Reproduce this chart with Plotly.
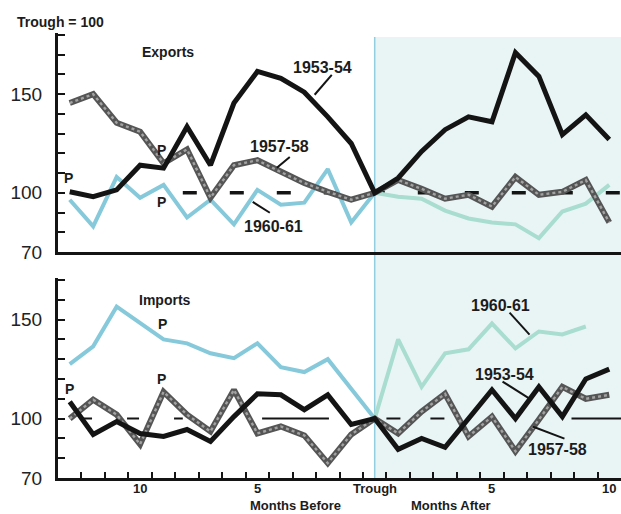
import plotly.graph_objects as go

# Months relative to the business-cycle trough (negative = before)
months = list(range(-13, 11))

# Exports, index with trough month = 100
exp_1953_54 = [100.5, 98, 101.5, 114, 112.5, 133.5, 114, 145.5, 161.5, 158, 151, 138.5, 125,
               100, 107.5, 121, 132, 138.5, 136, 171, 159, 129.5, 139.5, 127]
exp_1957_58 = [145.5, 150, 135.5, 131, 115, 122, 97.5, 114, 116.5, 110.5, 105, 100.5, 96.5,
               100, 106.5, 102, 97, 99, 93, 108, 99, 100.5, 106.5, 85]
exp_1960_61 = [96.5, 83, 108, 97.5, 104, 87.5, 96.5, 84, 101.5, 94, 95, 112, 85,
               100, 98, 97, 91, 87, 85, 84, 77, 90.5, 94.5, 104]

# Imports, index with trough month = 100
imp_1953_54 = [108.5, 92, 98.5, 92.5, 91, 94.5, 88.5, 101, 112.5, 112, 104.5, 112, 97,
               100, 84.5, 90, 85.5, 100, 114.5, 100, 116, 101, 120, 125]
imp_1957_58 = [100, 109.5, 102, 87, 113.5, 102, 93.5, 114.5, 92.5, 96, 91.5, 77.5, 92,
               100, 92.5, 103.5, 112.5, 91, 101, 83.5, 99.5, 116, 110, 112]
imp_1960_61 = [127.5, 136.5, 156.5, 148, 140, 138, 133, 130.5, 138, 126, 123.5, 130, 115,
               100, 140, 116, 133, 135, 148, 135.5, 144, 142.5, 146.5, None]

x_ticks = [-10, -5, 0, 5, 10]
x_tick_text = ["10", "5", "Trough", "5", "10"]
y_show = {70: "70", 100: "100", 150: "150"}

BLACK = "#141414"
BLUE = "#86c9da"
MINT = "#a8ddcf"
GREY_EDGE = "#555555"
GREY_FILL = "#a2a2a2"
FONT = "Liberation Sans"

fig = go.Figure()


def add_panel(xa, ya, s5354, s5758, s6061):
    before = [m for m in months if m <= 0]
    after = [m for m in months if m >= 0]
    v_before = [v for m, v in zip(months, s6061) if m <= 0]
    v_after = [v for m, v in zip(months, s6061) if m >= 0]
    # 1960-61: lighter tone once inside the recovery shading
    fig.add_trace(go.Scatter(x=before, y=v_before, mode="lines", xaxis=xa, yaxis=ya,
                             line=dict(color=BLUE, width=4), hoverinfo="skip"))
    fig.add_trace(go.Scatter(x=after, y=v_after, mode="lines", xaxis=xa, yaxis=ya,
                             line=dict(color=MINT, width=4), hoverinfo="skip"))
    # 1957-58: hatched grey band (dark edge with a speckled core)
    fig.add_trace(go.Scatter(x=months, y=s5758, mode="lines", xaxis=xa, yaxis=ya,
                             line=dict(color=GREY_EDGE, width=6), hoverinfo="skip"))
    fig.add_trace(go.Scatter(x=months, y=s5758, mode="lines", xaxis=xa, yaxis=ya,
                             line=dict(color=GREY_FILL, width=2.4, dash="dot"), hoverinfo="skip"))
    # 1953-54: heavy black
    fig.add_trace(go.Scatter(x=months, y=s5354, mode="lines", xaxis=xa, yaxis=ya,
                             line=dict(color=BLACK, width=5), hoverinfo="skip"))


add_panel("x", "y", exp_1953_54, exp_1957_58, exp_1960_61)
add_panel("x2", "y2", imp_1953_54, imp_1957_58, imp_1960_61)

top_dom = [1 - 252 / 514, 1 - 33 / 514]
bot_dom = [1 - 478 / 514, 1 - 278 / 514]
x_dom = [58 / 621, 1.0]
xr = [-13.5, 10.5]

common_y = dict(showgrid=False, zeroline=False, showline=True, linecolor=BLACK, linewidth=3,
                ticks="inside", ticklen=7, tickwidth=2, tickcolor=BLACK,
                tickfont=dict(family=FONT, size=19, color="#222"), ticklabelstandoff=9,
                automargin=False, fixedrange=True)

top_vals = list(range(70, 190, 10))
bot_vals = list(range(70, 180, 10))

fig.update_layout(
    width=621, height=514,
    margin=dict(l=0, r=0, t=0, b=0),
    paper_bgcolor="white", plot_bgcolor="rgba(0,0,0,0)",
    showlegend=False,
    xaxis=dict(domain=x_dom, range=xr, anchor="y", showgrid=False, zeroline=False,
               showline=True, linecolor=BLACK, linewidth=3, showticklabels=False,
               ticks="", automargin=False),
    yaxis=dict(domain=top_dom, range=[70, 181], anchor="x", tickvals=top_vals,
               ticktext=[y_show.get(v, "") for v in top_vals], **common_y),
    xaxis2=dict(domain=x_dom, range=xr, anchor="y2", showgrid=False, zeroline=False,
                showline=True, linecolor=BLACK, linewidth=3,
                tickvals=[m + 0.5 for m in range(-13, 11)], ticks="inside",
                ticklen=6, tickwidth=2, tickcolor=BLACK, showticklabels=False,
                automargin=False),
    yaxis2=dict(domain=bot_dom, range=[70, 171], anchor="x2", tickvals=bot_vals,
                ticktext=[y_show.get(v, "") for v in bot_vals], **common_y),
)

shapes = []
# recovery period shading after the trough, spanning both panels
shapes.append(dict(type="rect", xref="x", yref="paper", x0=0, x1=10.5,
                   y0=1 - 478 / 514, y1=1 - 37 / 514, fillcolor="#e9f5f5",
                   line=dict(width=0), layer="below"))
shapes.append(dict(type="line", xref="x", yref="paper", x0=0, x1=0,
                   y0=1 - 478 / 514, y1=1 - 37 / 514,
                   line=dict(color="#93cde0", width=1.5), layer="below"))
# trough = 100 reference lines
shapes.append(dict(type="line", xref="x", yref="y", x0=-8.18, x1=10.5, y0=100, y1=100,
                   line=dict(color=BLACK, width=3.5, dash="14px,33px"), layer="below"))
for x0, x1, dash in [(-12.56, -8.18, "12px,35px"), (-4.8, -1.95, "solid"),
                     (0.5, 3.2, "14px,30px"), (8.39, 10.5, "solid")]:
    shapes.append(dict(type="line", xref="x2", yref="y2", x0=x0, x1=x1, y0=100, y1=100,
                       line=dict(color=BLACK, width=2, dash=dash), layer="below"))
# leader lines from series labels
for xref, yref, x0, y0, x1, y1 in [
    ("x", "y", -1.83, 159.8, -2.56, 149.7),
    ("x", "y", -3.62, 118.2, -4.17, 112.7),
    ("x", "y", -5.2, 95.4, -4.47, 89.9),
    ("x2", "y2", 5.75, 153.5, 6.6, 142.4),
    ("x2", "y2", 5.45, 118.7, 6.6, 110.1),
    ("x2", "y2", 6.73, 96.0, 8.09, 89.9),
]:
    shapes.append(dict(type="line", xref=xref, yref=yref, x0=x0, y0=y0, x1=x1, y1=y1,
                       line=dict(color=BLACK, width=2)))
fig.update_layout(shapes=shapes)


def label(text, x, y, xref, yref, size=14):
    fig.add_annotation(text=f"<b>{text}</b>", x=x, y=y, xref=xref, yref=yref,
                       showarrow=False, font=dict(family=FONT, size=size, color="#1c1c1c"),
                       xanchor="center", yanchor="middle")


label("Trough = 100", 60 / 621, 1 - 22 / 514, "paper", "paper", 14)
label("Exports", -8.82, 171.5, "x", "y", 14)
label("1953-54", -2.21, 163.4, "x", "y", 16)
label("1957-58", -4.05, 123.3, "x", "y", 16)
label("1960-61", -4.3, 82.8, "x", "y", 16)
label("P", -13.07, 107.6, "x", "y", 14)
label("P", -9.07, 121.8, "x", "y", 14)
label("P", -9.07, 95.4, "x", "y", 14)

label("Imports", -8.94, 160.1, "x2", "y2", 14)
label("P", -9.03, 148, "x2", "y2", 14)
label("P", -9.07, 120.2, "x2", "y2", 14)
label("P", -12.99, 115.2, "x2", "y2", 14)
label("1960-61", 5.37, 157, "x2", "y2", 16)
label("1953-54", 5.54, 122.2, "x2", "y2", 16)
label("1957-58", 7.79, 84.3, "x2", "y2", 16)

# month labels under the lower panel, placed on the shared month scale
for xv, txt in zip(x_ticks, x_tick_text):
    fig.add_annotation(text=f"<b>{txt}</b>", x=xv, y=1 - 488 / 514, xref="x2", yref="paper",
                       showarrow=False, font=dict(family=FONT, size=13, color="#1c1c1c"),
                       xanchor="center", yanchor="middle", borderpad=0)

# axis captions, anchored to the bottom edge of the page
for text, xc in [("Months Before", 295 / 621), ("Months After", 451 / 621)]:
    fig.add_annotation(text=f"<b>{text}</b>", x=xc, y=0, xref="paper", yref="paper",
                       showarrow=False, font=dict(family=FONT, size=13, color="#1c1c1c"),
                       xanchor="center", yanchor="bottom", borderpad=0)

fig.write_html("out.html")
